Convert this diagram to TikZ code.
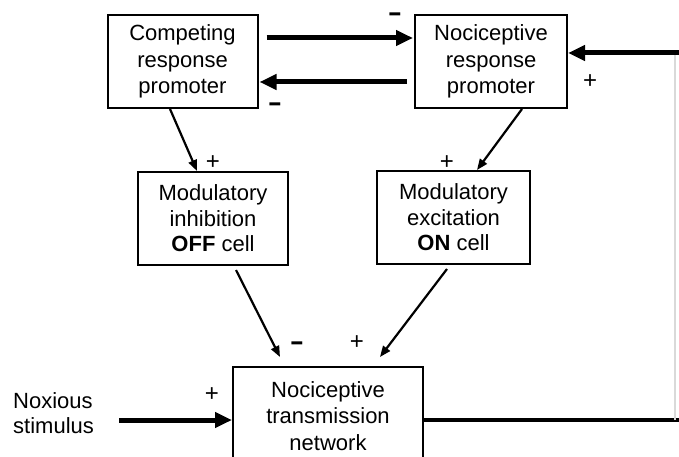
\documentclass[tikz,border=0pt]{standalone}
\usepackage{fontspec}
\setmainfont{Liberation Sans}
\usetikzlibrary{arrows.meta}
\newcommand{\heavyminus}{\scalebox{1.15}[1.6]{\bfseries –}}
\begin{document}
\begin{tikzpicture}[x=1pt,y=-1pt,
  box/.style={draw, line width=2pt, align=center, inner sep=0pt,
    minimum width=150pt, minimum height=93pt,
    font=\fontsize{22}{26.5}\selectfont},
  midbox/.style={box, font=\fontsize{22}{25.5}\selectfont},
  plain/.style={align=left, inner sep=0pt, font=\fontsize{22}{24.5}\selectfont},
  plus/.style={inner sep=0pt, font=\fontsize{24}{24}\selectfont},
  minus/.style={inner sep=0pt, anchor=base, yshift=-8pt,
    font=\fontsize{19}{19}\selectfont},
  thin/.style={line width=2.2pt, -{Triangle[length=11pt,width=8.5pt]}},
  heavy/.style={line width=5pt, -{Triangle[length=17pt,width=15pt]}},
  heavyline/.style={line width=4.5pt},
  faint/.style={line width=1.2pt, black!15}]
\clip (0,0) rectangle (679,457);
\useasboundingbox (0,0) rectangle (679,457);

% boxes
\node[box] (comp) at (182.5,61.5) {Competing\\response\\promoter};
\node[box, minimum width=152pt] (noci) at (491,61.5) {Nociceptive\\response\\promoter};
\node[midbox] (off) at (213,218.5) {Modulatory\\inhibition\\\textbf{OFF} cell};
\node[midbox, minimum width=153pt] (on) at (453.5,217.5) {Modulatory\\excitation\\\textbf{ON} cell};
\node[box, minimum width=190pt, minimum height=98pt] (net) at (328,416) {Nociceptive\\transmission\\network};
\node[plain, anchor=west] (nox) at (13,413) {Noxious\\stimulus};

% feedback loop corners at the right edge
\coordinate (rt) at (681,53);
\coordinate (rb) at (681,420);

% connectors
\draw[heavy, shorten <=8pt, shorten >=1pt] ([yshift=23.5pt]comp.east) -- ([yshift=23.5pt]noci.west);
\draw[heavy, shorten <=7pt, shorten >=1pt] ([yshift=-20.5pt]noci.west) -- ([yshift=-20.5pt]comp.east);
\draw[thin] ([xshift=-12.5pt]comp.south) -- ([xshift=-16pt]off.north);
\draw[thin] ([xshift=31pt]noci.south) -- ([xshift=23.5pt]on.north);
\draw[thin] ([xshift=23pt,yshift=-4pt]off.south) -- ([xshift=-48pt,yshift=9pt]net.north);
\draw[thin] ([xshift=-6.5pt,yshift=-4pt]on.south) -- ([xshift=52pt,yshift=9pt]net.north);
\draw[heavy] ([xshift=25pt,yshift=-7pt]nox.east) -- ([yshift=-4pt]net.west);
\draw[heavyline] ([yshift=-4pt]net.east) -- (rb);
\draw[faint] ([xshift=-6pt]rb) -- ([xshift=-6pt]rt);
\draw[heavy] (rt) -- ([yshift=8.5pt]noci.east);

% signs
\node[minus] (m1) at (395,15) {\heavyminus};
\node[minus] (m2) at (275,105) {\heavyminus};
\node[plus] (p1) at (590,82) {+};
\node[plus] (p2) at (213,163) {+};
\node[plus] (p3) at (447,163) {+};
\node[minus] (m3) at (297,343) {\heavyminus};
\node[plus] (p4) at (357,343) {+};
\node[plus] (p5) at (212,395) {+};
\end{tikzpicture}
\end{document}
